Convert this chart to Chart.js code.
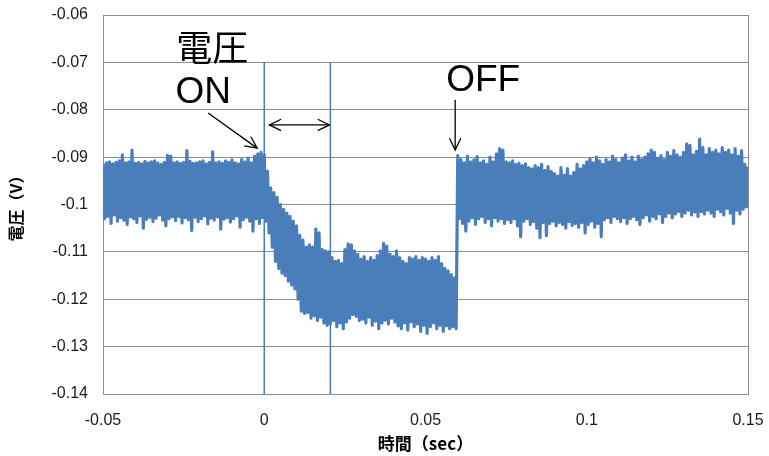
<!DOCTYPE html>
<html lang="ja">
<head>
<meta charset="utf-8">
<title>電圧（V）</title>
<script src="https://cdn.jsdelivr.net/npm/chart.js@4/dist/chart.umd.min.js"></script>
<style>
  html, body { margin: 0; padding: 0; background: #fff; }
  #wrap { width: 769px; height: 456px; position: relative; }
</style>
</head>
<body>
<div id="wrap"><canvas id="voltChart"></canvas></div>
<script>
// 採取時間: t0 から dt 刻み (sec)
const t0 = -0.05;
const dt = 0.0005;

// 電圧 (V) — 画像から読み取った値
const voltage = [
  // -0.05 〜 0
  -0.0915,-0.1030,-0.0912,-0.1025,-0.0910,-0.1040,-0.0914,-0.1022,-0.0911,-0.1035,
  -0.0908,-0.1028,-0.0895,-0.1033,-0.0912,-0.1042,-0.0910,-0.1026,-0.0885,-0.1030,
  -0.0913,-0.1038,-0.0911,-0.1024,-0.0914,-0.1050,-0.0909,-0.1031,-0.0912,-0.1027,
  -0.0910,-0.1036,-0.0908,-0.1029,-0.0912,-0.1022,-0.0915,-0.1033,-0.0911,-0.1045,
  -0.0896,-0.1030,-0.0898,-0.1026,-0.0912,-0.1034,-0.0910,-0.1025,-0.0913,-0.1039,
  -0.0911,-0.1028,-0.0886,-0.1032,-0.0909,-0.1055,-0.0913,-0.1027,-0.0912,-0.1036,
  -0.0910,-0.1030,-0.0908,-0.1024,-0.0914,-0.1041,-0.0911,-0.1029,-0.0889,-0.1033,
  -0.0912,-0.1026,-0.0910,-0.1052,-0.0913,-0.1031,-0.0908,-0.1028,-0.0911,-0.1037,
  -0.0906,-0.1030,-0.0912,-0.1024,-0.0914,-0.1048,-0.0905,-0.1032,-0.0910,-0.1027,
  -0.0902,-0.1035,-0.0912,-0.1056,-0.0898,-0.1030,-0.0893,-0.1040,-0.0890,-0.1028,
  // 0 〜 0.02 (電圧 ON)
  -0.0895,-0.1035,-0.0930,-0.1060,-0.0965,-0.1090,-0.0975,-0.1120,-0.0985,-0.1135,
  -0.1000,-0.1145,-0.1010,-0.1150,-0.1018,-0.1162,-0.1025,-0.1170,-0.1035,-0.1178,
  -0.1045,-0.1200,-0.1065,-0.1225,-0.1075,-0.1230,-0.1090,-0.1228,-0.1085,-0.1240,
  -0.1090,-0.1235,-0.1052,-0.1245,-0.1060,-0.1238,-0.1095,-0.1250,-0.1098,-0.1255,
  // 0.02 〜 0.06
  -0.1100,-0.1252,-0.1112,-0.1245,-0.1120,-0.1258,-0.1118,-0.1250,-0.1125,-0.1262,
  -0.1095,-0.1248,-0.1083,-0.1240,-0.1085,-0.1232,-0.1098,-0.1236,-0.1105,-0.1245,
  -0.1115,-0.1242,-0.1110,-0.1250,-0.1120,-0.1238,-0.1112,-0.1255,-0.1118,-0.1246,
  -0.1108,-0.1262,-0.1098,-0.1250,-0.1082,-0.1244,-0.1088,-0.1252,-0.1105,-0.1240,
  -0.1110,-0.1248,-0.1098,-0.1256,-0.1112,-0.1262,-0.1120,-0.1250,-0.1125,-0.1265,
  -0.1112,-0.1248,-0.1115,-0.1258,-0.1110,-0.1252,-0.1118,-0.1268,-0.1112,-0.1255,
  -0.1115,-0.1272,-0.1120,-0.1258,-0.1112,-0.1250,-0.1118,-0.1262,-0.1110,-0.1255,
  -0.1125,-0.1268,-0.1135,-0.1256,-0.1140,-0.1262,-0.1148,-0.1258,-0.1155,-0.1262,
  // 0.06 〜 0.15 (電圧 OFF)
  -0.0897,-0.1030,-0.0905,-0.1040,-0.0912,-0.1056,-0.0898,-0.1035,-0.0910,-0.1028,
  -0.0906,-0.1042,-0.0899,-0.1030,-0.0912,-0.1025,-0.0908,-0.1038,-0.0915,-0.1030,
  -0.0900,-0.1045,-0.0910,-0.1028,-0.0893,-0.1035,-0.0882,-0.1030,-0.0885,-0.1040,
  -0.0910,-0.1032,-0.0912,-0.1038,-0.0908,-0.1030,-0.0915,-0.1045,-0.0913,-0.1068,
  -0.0918,-0.1035,-0.0914,-0.1030,-0.0922,-0.1042,-0.0925,-0.1036,-0.0918,-0.1050,
  -0.0922,-0.1070,-0.0915,-0.1038,-0.0928,-0.1066,-0.0920,-0.1040,-0.0930,-0.1035,
  -0.0935,-0.1045,-0.0940,-0.1038,-0.0922,-0.1042,-0.0938,-0.1050,-0.0924,-0.1036,
  -0.0940,-0.1044,-0.0932,-0.1040,-0.0915,-0.1048,-0.0925,-0.1038,-0.0918,-0.1060,
  -0.0910,-0.1042,-0.0903,-0.1035,-0.0912,-0.1048,-0.0900,-0.1040,-0.0908,-0.1068,
  -0.0915,-0.1032,-0.0905,-0.1028,-0.0910,-0.1038,-0.0898,-0.1025,-0.0905,-0.1030,
  -0.0912,-0.1036,-0.0902,-0.1028,-0.0895,-0.1040,-0.0908,-0.1030,-0.0900,-0.1025,
  -0.0910,-0.1032,-0.0898,-0.1042,-0.0905,-0.1028,-0.0900,-0.1022,-0.0893,-0.1035,
  -0.0885,-0.1025,-0.0890,-0.1030,-0.0902,-0.1020,-0.0897,-0.1038,-0.0905,-0.1025,
  -0.0890,-0.1018,-0.0898,-0.1028,-0.0886,-0.1020,-0.0895,-0.1015,-0.0900,-0.1025,
  -0.0890,-0.1018,-0.0872,-0.1012,-0.0875,-0.1022,-0.0895,-0.1016,-0.0888,-0.1025,
  -0.0862,-0.1015,-0.0880,-0.1020,-0.0895,-0.1012,-0.0882,-0.1018,-0.0890,-0.1025,
  -0.0885,-0.1010,-0.0893,-0.1015,-0.0880,-0.1022,-0.0890,-0.1008,-0.0885,-0.1018,
  -0.0895,-0.1040,-0.0882,-0.1012,-0.0898,-0.1020,-0.0886,-0.1010,-0.0915,-0.1005,
  -0.0920
];

// 縦の補助線 (ON からの区間)
const markerTimes = [0, 0.0205];
const markerTop = -0.07;
const markerBottom = -0.14;

// 注記テキスト
const noteLabels = ['電圧', 'ON', 'OFF'];
const noteX = [-0.0161, -0.0189, 0.0679];
const noteY = [-0.0668, -0.0765, -0.0739];
const noteFonts = ['36px "Noto Sans CJK JP"', '37px "Liberation Sans"', '37px "Liberation Sans"'];

// 矢印: 始点 -> 終点 (データ座標), 両矢印かどうか
const arrowX1 = [-0.0174, 0.0016, 0.0592];
const arrowY1 = [-0.0807, -0.0832, -0.0779];
const arrowX2 = [-0.0022, 0.0202, 0.0592];
const arrowY2 = [-0.0881, -0.0832, -0.0885];
const arrowBoth = [false, true, false];

const lineBlue = '#4a7ebb';
const gridGray = '#8c8c8c';

function fmt(v) {
  return String(Number(v.toFixed(2)));
}

// 矢じりを描く
function drawHead(ctx, x, y, angle) {
  const len = 13, spread = 0.45;
  ctx.beginPath();
  ctx.moveTo(x - len * Math.cos(angle - spread), y - len * Math.sin(angle - spread));
  ctx.lineTo(x, y);
  ctx.lineTo(x - len * Math.cos(angle + spread), y - len * Math.sin(angle + spread));
  ctx.stroke();
}

// 注記と矢印を描くプラグイン
const notesPlugin = {
  id: 'notes',
  afterDraw(chart) {
    const ctx = chart.ctx;
    const xs = chart.scales.x, ys = chart.scales.y;
    ctx.save();
    ctx.fillStyle = '#000';
    ctx.textAlign = 'center';
    ctx.textBaseline = 'middle';
    noteLabels.forEach((txt, i) => {
      ctx.font = noteFonts[i];
      ctx.fillText(txt, xs.getPixelForValue(noteX[i]), ys.getPixelForValue(noteY[i]));
    });
    ctx.strokeStyle = '#000';
    ctx.lineWidth = 1.3;
    arrowX1.forEach((_, i) => {
      const x1 = xs.getPixelForValue(arrowX1[i]), y1 = ys.getPixelForValue(arrowY1[i]);
      const x2 = xs.getPixelForValue(arrowX2[i]), y2 = ys.getPixelForValue(arrowY2[i]);
      ctx.beginPath();
      ctx.moveTo(x1, y1);
      ctx.lineTo(x2, y2);
      ctx.stroke();
      const a = Math.atan2(y2 - y1, x2 - x1);
      drawHead(ctx, x2, y2, a);
      if (arrowBoth[i]) drawHead(ctx, x1, y1, a + Math.PI);
    });
    // 右側の枠線
    const area = chart.chartArea;
    ctx.strokeStyle = gridGray;
    ctx.lineWidth = 1;
    ctx.beginPath();
    ctx.moveTo(Math.round(area.right) + 0.5, area.top);
    ctx.lineTo(Math.round(area.right) + 0.5, area.bottom);
    ctx.stroke();
    ctx.restore();
  }
};

document.addEventListener('DOMContentLoaded', () => {
  const ctx = document.getElementById('voltChart').getContext('2d');

  const datasets = [{
    label: '電圧',
    data: voltage.map((v, i) => ({ x: t0 + i * dt, y: v })),
    borderColor: lineBlue,
    borderWidth: 3.2,
    borderJoinStyle: 'round',
    pointRadius: 0,
    tension: 0,
    order: 1
  }];
  markerTimes.forEach(t => {
    datasets.push({
      label: 'marker',
      data: [{ x: t, y: markerTop }, { x: t, y: markerBottom }],
      borderColor: lineBlue,
      borderWidth: 1.5,
      pointRadius: 0,
      clip: false,
      order: 2
    });
  });

  new Chart(ctx, {
    type: 'line',
    data: { datasets },
    options: {
      responsive: true,
      maintainAspectRatio: false,
      animation: false,
      layout: { padding: { top: 15, right: 21, left: 0, bottom: 0 } },
      plugins: {
        legend: { display: false },
        tooltip: { enabled: false }
      },
      scales: {
        x: {
          type: 'linear',
          min: -0.05,
          max: 0.15,
          afterFit(scale) {
            scale.height = 62;
            scale.paddingLeft = 0;
            scale.paddingRight = 0;
          },
          ticks: {
            stepSize: 0.05,
            padding: 17,
            color: '#1a1a1a',
            font: { family: 'Liberation Sans', size: 16 },
            maxRotation: 0,
            callback: v => fmt(v)
          },
          grid: { display: false, drawTicks: false },
          border: { display: true, color: gridGray, width: 1 },
          title: {
            display: true,
            text: '時間（sec）',
            color: '#000',
            font: { family: 'Noto Sans CJK JP', size: 17, weight: 'bold' },
            padding: { top: 2, bottom: 2 }
          }
        },
        y: {
          min: -0.14,
          max: -0.06,
          afterFit(scale) {
            scale.width = 103;
            scale.paddingTop = 0;
            scale.paddingBottom = 0;
          },
          ticks: {
            stepSize: 0.01,
            padding: 15,
            color: '#1a1a1a',
            font: { family: 'Liberation Sans', size: 16 },
            callback: v => fmt(v)
          },
          grid: { color: gridGray, lineWidth: 1, drawTicks: false },
          border: { display: true, color: gridGray, width: 1 },
          title: {
            display: true,
            text: '電圧（V）',
            color: '#000',
            font: { family: 'Noto Sans CJK JP', size: 16, weight: 'bold' },
            padding: { top: 6, bottom: 6 }
          }
        }
      }
    },
    plugins: [notesPlugin]
  });
});
</script>
</body>
</html>
